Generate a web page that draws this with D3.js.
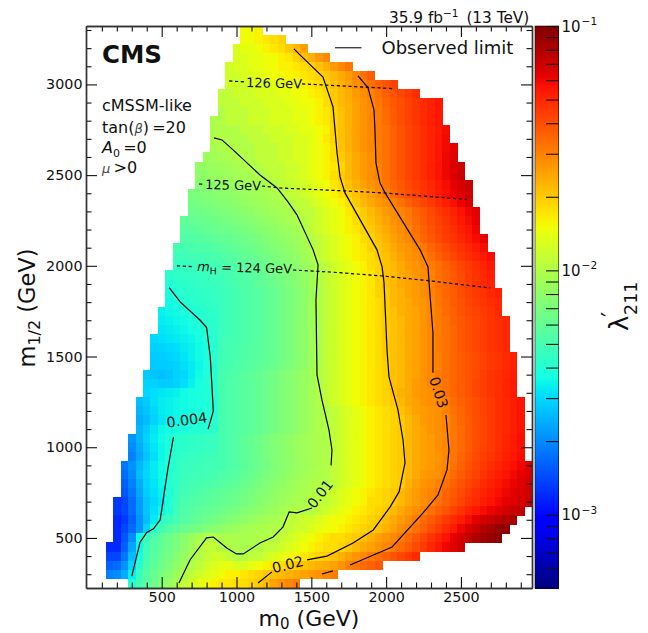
<!DOCTYPE html>
<html>
<head>
<meta charset="utf-8">
<script src="https://cdn.jsdelivr.net/npm/d3@7"></script>
<style>
  body { margin: 0; background: #fff; }
  text { font-family: "DejaVu Sans", sans-serif; fill: #111; }
</style>
</head>
<body>
<script>
// m1/2 of every row, its first m0 column, and lambda'211 x 1000 (50 GeV columns)
const rowM12 = [3300,3250,3200,3150,3100,3050,3000,2950,2900,2850,2800,2750,2700,2650,2600,2550,2500,2450,2400,2350,2300,2250,2200,2150,2100,2050,2000,1950,1900,1850,1800,1750,1700,1650,1600,1550,1500,1450,1400,1350,1300,1250,1200,1150,1100,1050,1000,950,900,850,800,750,700,650,600,550,500,450,400,350,300,250];
const rowFirstM0 = [1050,1050,1000,1000,950,950,950,900,900,900,850,850,850,850,800,750,750,750,700,700,700,650,650,650,600,600,600,550,550,550,550,500,500,500,450,450,450,450,400,400,400,350,350,350,350,300,300,300,250,250,250,250,200,200,200,200,200,150,150,150,150,300];
const lambdaRows = [
[15,15,16],
[15,15,16,17,18,19],
[13,14,14,15,16,17,18,20,22,25],
[13,13,14,14,15,15,16,17,19,21,23,26,29],
[12,13,13,14,14,15,15,16,16,17,18,19,21,23,26,29,32],
[12,12,13,13,14,14,15,15,16,16,17,18,19,20,22,24,26,29,33,37],
[12,12,12,13,13,13,14,14,15,15,16,17,18,19,21,23,25,28,30,33,36,39,43],
[11,11,12,12,12,13,13,13,14,14,15,15,16,17,18,20,22,24,26,28,30,33,36,39,42,45,48],
[11,11,11,12,12,12,13,13,13,14,14,15,15,16,18,20,22,23,25,27,29,32,35,38,40,43,46,49,52,55],
[10,11,11,11,12,12,12,13,13,13,14,14,15,16,17,19,21,23,25,27,29,31,34,37,40,43,46,49,52,55],
[9.8,10,11,11,11,12,12,12,13,13,13,14,14,15,16,17,19,21,23,25,27,29,31,34,37,40,43,46,49,52,55],
[9.7,9.9,10,10,11,11,11,12,12,12,13,13,14,14,15,16,19,21,23,25,27,29,31,33,36,39,42,45,48,51,54,58],
[10,10,10,10,10,11,11,11,12,12,12,13,13,14,15,17,19,21,23,25,27,29,31,33,36,39,42,45,48,51,55,59],
[9.5,9.7,9.9,10,10,10,11,11,11,12,12,13,13,14,15,16,18,21,23,25,27,29,31,33,36,39,42,45,48,51,55,59,63],
[8.8,9,9.3,9.6,10,10,10,11,11,11,12,12,13,13,14,15,16,18,20,22,24,26,28,31,33,36,39,42,45,48,51,55,60,65],
[8.2,8.4,8.6,8.8,9,9.3,9.7,10,10,11,11,11,12,12,13,14,15,16,17,19,22,24,26,28,30,33,36,39,42,45,48,52,56,60,65,70],
[8,8.2,8.4,8.6,8.8,9,9.3,9.6,10,10,11,11,12,12,13,14,15,16,18,20,22,24,26,28,30,33,36,39,42,45,48,52,56,60,65,70],
[7.6,7.8,8,8.2,8.4,8.6,8.9,9.2,9.5,9.9,10,11,11,12,12,13,14,15,17,19,21,23,25,27,29,32,35,38,41,44,47,50,54,58,62,67,72],
[7,7.2,7.4,7.6,7.8,8,8.2,8.5,8.8,9.1,9.4,9.7,10,11,11,12,13,14,15,16,18,19,21,23,25,28,31,34,37,40,43,46,49,53,57,61,65,70],
[6.7,6.9,7.1,7.3,7.5,7.7,8,8.2,8.5,8.8,9.1,9.4,9.7,10,11,11,12,13,14,15,16,18,20,22,24,26,28,30,33,36,39,42,45,49,53,57,61,66],
[6.4,6.5,6.7,6.9,7.1,7.3,7.5,7.8,8.1,8.4,8.7,9,9.3,9.6,10,11,11,12,13,14,15,17,18,20,22,24,26,28,30,32,35,38,41,45,48,52,56,60,64],
[5.9,6,6.2,6.3,6.5,6.7,6.9,7.1,7.3,7.6,7.9,8.2,8.5,8.9,9.3,9.7,10,11,12,13,14,15,16,18,19,21,23,25,27,29,31,34,37,40,43,46,50,54,58,62],
[5.6,5.7,5.9,6,6.2,6.4,6.5,6.7,6.9,7.2,7.5,7.8,8.1,8.4,8.8,9.2,9.8,11,12,13,14,15,16,17,19,20,22,24,26,28,30,33,36,39,42,45,48,52,56,60],
[5.3,5.4,5.5,5.7,5.8,6,6.1,6.3,6.5,6.7,7,7.3,7.6,8,8.4,8.8,9.4,10,11,12,13,14,15,16,18,19,21,23,25,27,29,32,35,38,41,44,47,50,54,58,62],
[5,5,5.1,5.2,5.3,5.4,5.6,5.8,6,6.2,6.4,6.7,7,7.3,7.7,8.1,8.5,9.2,10,11,12,13,14,15,16,17,19,20,22,24,26,27,29,32,35,38,41,44,47,50,54,58],
[4.7,4.8,4.9,4.9,5,5.1,5.3,5.5,5.7,5.9,6.1,6.4,6.7,7,7.4,7.8,8.2,8.8,9.6,11,12,13,14,15,16,17,18,20,21,23,25,27,28,30,33,36,39,42,45,48,51,54,58],
[4.5,4.5,4.6,4.7,4.8,4.9,5,5.2,5.4,5.6,5.8,6.1,6.4,6.7,7.1,7.5,7.9,8.5,9.1,10,11,12,13,14,15,16,18,19,21,22,24,26,27,29,31,33,36,39,42,45,48,51,55],
[4.2,4.3,4.4,4.4,4.5,4.6,4.7,4.8,5,5.2,5.4,5.6,5.9,6.2,6.5,6.9,7.3,7.7,8.2,8.9,10,11,12,13,14,15,16,17,19,21,22,24,25,27,28,30,33,35,38,41,44,47,50,53],
[4,4.1,4.2,4.3,4.4,4.5,4.6,4.7,4.9,5.1,5.3,5.5,5.8,6.1,6.4,6.8,7.2,7.6,8.1,8.9,10,11,12,13,14,15,16,17,19,21,22,24,25,26,28,30,33,35,38,41,44,46,49,52],
[3.8,3.9,4.1,4.2,4.3,4.4,4.5,4.6,4.8,5,5.2,5.4,5.6,5.9,6.2,6.6,7,7.4,7.9,8.8,10,11,12,13,14,15,16,17,19,20,22,23,25,26,28,30,32,35,37,40,43,45,47,50,52],
[3.6,3.8,4,4.1,4.2,4.3,4.4,4.6,4.8,5,5.2,5.4,5.6,5.9,6.2,6.5,6.9,7.4,7.9,8.8,10,11,12,13,14,15,16,17,18,20,22,23,24,26,27,29,32,34,37,39,42,44,46,48,50],
[3.4,3.5,3.6,3.8,3.9,4,4.2,4.3,4.6,4.8,5,5.2,5.4,5.6,5.9,6.2,6.6,7,7.5,8,8.9,10,11,12,13,14,15,16,17,18,20,21,23,24,25,27,29,31,34,36,39,41,43,45,47,50],
[3.3,3.4,3.5,3.6,3.8,4,4.1,4.2,4.6,4.8,5,5.2,5.4,5.6,5.9,6.2,6.6,7,7.5,8,8.9,9.9,11,12,13,14,15,16,17,18,20,21,22,24,25,27,29,31,33,36,38,40,42,44,46,48,50],
[3.2,3.3,3.4,3.5,3.7,3.8,4,4.1,4.6,4.8,5,5.2,5.4,5.6,5.9,6.2,6.6,7,7.5,8,8.9,9.8,11,12,13,14,15,16,17,18,20,21,22,24,25,27,29,31,33,35,38,40,42,44,46,48,50],
[3,3.1,3.2,3.3,3.4,3.5,3.7,3.9,4.1,4.7,4.9,5,5.2,5.4,5.6,5.9,6.2,6.6,7,7.5,8,8.9,9.8,11,12,13,14,15,16,17,18,20,21,22,24,25,27,29,31,33,35,38,40,42,44,46,48,50],
[2.9,2.9,3,3.1,3.3,3.4,3.6,3.8,4.1,4.8,4.9,5.1,5.3,5.5,5.7,5.9,6.2,6.6,7,7.5,8,8.9,9.8,11,12,13,14,15,16,17,18,20,21,22,24,25,27,29,31,33,35,38,40,42,44,46,48,50],
[2.8,2.8,2.9,3,3.2,3.4,3.6,3.8,4.1,4.8,5,5.1,5.3,5.5,5.7,5.9,6.2,6.6,7,7.5,8,8.9,9.8,11,12,13,14,15,16,17,18,20,21,22,24,25,27,29,30,33,35,37,39,41,43,45,47,49,52],
[2.8,2.8,2.8,2.9,3.1,3.3,3.5,3.8,4.1,4.9,5,5.2,5.4,5.6,5.8,6,6.3,6.7,7.1,7.6,8.1,8.9,9.8,11,12,13,14,15,16,17,18,19,21,22,24,25,27,29,30,33,35,37,39,41,43,45,47,49,52],
[2.8,2.7,2.6,2.7,2.9,3,3.3,3.6,3.9,4.2,5,5.2,5.4,5.6,5.8,6.1,6.4,6.8,7.2,7.6,8,8.5,9.1,10,11,12,13,14,15,16,17,18,19,21,22,24,25,27,29,31,33,35,37,39,41,44,46,48,50,53],
[2.9,2.9,2.8,2.8,2.9,3.1,3.4,3.7,3.9,4.2,5,5.2,5.4,5.6,5.8,6.1,6.4,6.8,7.2,7.6,8,8.5,9.1,10,11,12,13,14,15,16,17,18,19,21,22,24,26,27,29,31,33,35,37,39,42,44,46,48,51,54],
[3,3.1,3.2,3.3,3.4,3.6,3.7,3.8,3.9,4.1,5,5.2,5.4,5.6,5.8,6.1,6.4,6.8,7.2,7.6,8,8.5,9.1,10,11,12,13,14,15,16,17,18,19,21,23,24,26,27,28,30,33,35,37,39,42,44,46,48,51,54],
[2.6,2.8,3.1,3.3,3.4,3.5,3.6,3.7,3.8,3.9,4,5,5.2,5.4,5.6,5.8,6.1,6.4,6.8,7.2,7.6,8,8.5,9.1,9.8,11,12,13,14,15,16,17,18,19,20,22,24,25,27,28,29,31,34,36,38,40,43,45,48,50,53,56],
[2.5,2.7,3,3.3,3.4,3.5,3.6,3.7,3.8,3.9,4,5,5.2,5.4,5.6,5.8,6.1,6.4,6.8,7.2,7.6,8,8.5,9.1,9.8,10,11,12,13,14,15,16,17,18,19,21,23,25,26,27,28,30,33,35,38,40,43,45,48,50,53,56],
[2.4,2.6,2.9,3.2,3.4,3.5,3.6,3.7,3.9,4,4.1,5,5.2,5.4,5.6,5.8,6.1,6.4,6.8,7.2,7.6,8,8.5,9.1,9.8,10,11,12,13,14,15,16,17,18,19,20,22,24,26,27,28,29,32,35,37,40,42,45,48,50,53,56],
[2.5,2.8,3.2,3.5,3.6,3.7,3.8,3.9,4,4,4.2,5,5.2,5.4,5.6,5.8,6.1,6.4,6.8,7.2,7.6,8,8.5,9.1,9.8,10,11,12,13,14,15,16,17,18,19,20,22,24,25,27,28,29,32,34,37,40,42,45,48,50,53,56],
[2.1,2.5,2.9,3.3,3.6,3.9,4.1,4.2,4.3,4.4,4.5,4.6,5,5.2,5.5,5.8,6.1,6.5,6.9,7.3,7.7,8.1,8.5,8.9,9.3,9.6,9.9,11,12,13,14,15,16,17,18,19,20,22,24,25,26,28,29,32,34,37,40,42,45,48,51,54,57],
[2,2.4,2.8,3.2,3.5,3.8,4.1,4.2,4.3,4.4,4.5,4.6,5,5.2,5.5,5.8,6.1,6.5,6.9,7.3,7.7,8.1,8.5,8.9,9.3,9.6,9.9,11,12,13,14,15,16,17,18,19,20,22,24,25,26,28,29,32,34,37,40,43,45,48,51,54,57],
[1.9,2.3,2.7,3.1,3.5,3.8,4.2,4.4,4.5,4.6,4.7,4.8,5,5.2,5.5,5.8,6.1,6.5,6.9,7.3,7.7,8.1,8.5,8.9,9.3,9.6,9.9,11,12,13,14,15,16,17,18,19,20,22,24,25,26,27,29,32,35,38,41,44,46,49,52,55,58],
[1.8,2.1,2.5,2.9,3.3,3.6,3.9,4.3,4.5,4.6,4.7,4.8,4.9,5,5.2,5.4,5.7,6,6.4,6.8,7.2,7.6,8,8.4,8.8,9.2,9.6,10,11,12,13,14,15,16,17,18,19,20,22,24,25,26,28,29,33,36,39,42,45,48,51,54,57,60,63],
[1.7,2,2.6,3,3.3,3.6,4,4.3,4.6,4.7,4.8,4.9,5,5.2,5.4,5.6,5.9,6.2,6.6,7,7.4,7.8,8.2,8.6,9,9.4,9.8,10,11,12,13,14,15,16,17,18,19,20,22,24,26,27,28,31,34,37,40,43,47,50,53,56,59,62,65],
[1.6,1.9,2.4,2.9,3.2,3.5,3.9,4.4,4.7,4.9,5,5.1,5.3,5.5,5.7,5.9,6.2,6.5,6.9,7.3,7.7,8.1,8.5,8.9,9.3,9.7,10,10,11,12,13,14,15,16,17,18,19,20,23,25,27,28,30,33,36,39,42,45,49,52,55,58,61,64,67],
[1.5,1.8,2.3,2.8,3.1,3.4,3.8,4.5,4.9,5.1,5.3,5.5,5.7,5.9,6.1,6.3,6.6,6.9,7.3,7.6,8,8.4,8.8,9.2,9.6,9.9,10,11,12,13,14,15,16,17,18,19,20,22,24,26,28,30,32,35,38,41,44,48,51,54,57,60,63,66,70],
[1.3,1.4,1.7,2.2,2.7,3,3.3,3.9,4.6,5.1,5.3,5.5,5.7,5.9,6.1,6.3,6.5,6.8,7.1,7.5,7.9,8.3,8.7,9.1,9.5,9.8,10,11,11,12,13,14,15,16,18,18,19,20,22,24,26,28,30,33,36,39,42,46,49,53,56,59,62,65,68,71],
[1.3,1.4,1.7,2.2,2.7,3.1,3.5,4,4.8,5.3,5.5,5.8,6,6.2,6.4,6.7,7,7.3,7.6,8,8.3,8.7,9.1,9.9,10,10,10,11,12,13,14,15,16,17,18,19,20,22,24,26,28,30,33,36,39,43,47,51,55,58,61,64,68,71,74],
[1.2,1.3,1.6,2.1,2.6,3.3,4.1,4.6,5,5.5,5.8,6.1,6.4,6.7,7,7.3,7.7,8,8.4,8.8,9.2,9.5,9.8,11,11,12,12,13,14,15,15,16,17,18,19,20,22,24,26,28,31,34,37,41,45,49,53,58,63,68,72,76,80,84],
[1.2,1.4,1.7,2.1,2.9,4,4.8,5.4,5.8,6.2,6.5,6.9,7.3,7.7,8,8.4,8.7,9,9.3,9.6,9.8,10,10,11,12,12,13,14,15,15,16,17,18,19,20,21,23,25,28,30,33,36,40,44,49,54,60,66,72,78,84,90,93],
[1.2,1.5,2,3.6,4.6,5.3,5.9,6.4,7,7.7,8.5,9.4,10,10,9.7,9.6,9.5,9.5,9.6,9.8,9.9,10,11,12,13,14,15,16,17,18,18,19,20,21,23,25,27,29,31,34,38,42,46,51,56,62,68,74,80,86,90,95],
[1.2,1.2,1.6,2.3,3.5,4.8,5.5,6,6.5,7.1,7.9,8.8,9.9,11,11,10,9.9,9.6,9.5,9.7,10,11,11,12,13,14,15,16,17,18,18,19,20,22,24,25,27,29,31,34,37,41,45,50,55,60,65,70],
[1.4,1.4,1.8,2.6,3.7,5,5.7,6.2,6.8,7.5,8.4,9.4,10,11,12,12,11,10,10,11,11,12,13,14,15,16,17,18,19,20,21,23,25,27,29,31,33,36,39,42,45,49],
[1.6,1.7,2.1,3,4.1,5.2,5.9,6.5,7.2,8,8.9,9.9,11,12,13,14,14,13,13,14,15,16,17,18,19,20,21,22,23,24,25,27,30,32,34,36,38],
[1.9,2,2.4,3.4,4.6,5.5,6.2,6.9,7.7,8.6,9.5,11,12,13,14,15,16,16,17,18,19,20,21,22,23,24,25,26,27,29,31],
[4,4.9,5.7,6.5,7.3,8.3,9.6,11,12,14,15,16,17,17,18,18,19,20,22,25,27,29,31]
];
const xMajor = [500,1000,1500,2000,2500];
const xMinor = [100,200,300,400,600,700,800,900,1100,1200,1300,1400,1600,1700,1800,1900,2100,2200,2300,2400,2600,2700,2800,2900];
const yMajor = [500,1000,1500,2000,2500,3000];
const yMinor = [300,400,600,700,800,900,1100,1200,1300,1400,1600,1700,1800,1900,2100,2200,2300,2400,2600,2700,2800,2900,3100,3200,3300];
const barMajor = [0.1,0.01,0.001];
const barMinor = [0.09,0.08,0.07,0.06,0.05,0.04,0.03,0.02,0.009,0.008,0.007,0.006,0.005,0.004,0.003,0.002,0.0009,0.0008,0.0007,0.0006];

// observed limit contours, [m0, m1/2], broken where the labels sit
const limit004a = [[550,1880],[625,1800],[757,1700],[800,1660],[825,1495],[845,1200],[810,1100]];
const limit004b = [[578,1055],[540,875],[490,600],[445,550],[400,530],[355,475],[300,290]];
const limit01a = [[850,2705],[903,2694],[977,2639],[1157,2501],[1271,2429],[1344,2352],[1404,2281],[1512,2088],[1545,2005],[1531,1812],[1538,1399],[1571,1261],[1618,1095],[1638,985],[1632,900]];
const limit01b = [[1505,665],[1404,638],[1352,643],[1310,560],[1245,505],[1157,472],[1045,412],[1000,412],[935,445],[845,505],[800,500],[690,380],[615,252]];
const limit02a = [[1384,3196],[1424,3163],[1578,3041],[1645,2876],[1672,2622],[1692,2490],[1725,2402],[1939,2088],[1973,1994],[1986,1906],[2006,1536],[2019,1388],[2079,1206],[2113,1040],[2126,913],[2087,755],[2027,671],[1914,544],[1779,472],[1605,400],[1471,379]];
const limit02b = [[1144,252],[1237,313]];
const limit03a = [[1812,3047],[1879,2981],[1919,2859],[1926,2733],[1932,2567],[1959,2457],[1993,2402],[2227,2088],[2280,1994],[2287,1906],[2313,1630],[2313,1410]];
const limit03b = [[2400,1178],[2420,985],[2407,875],[2347,737],[2247,638],[2040,450],[1759,351]];
const limit03c = [[1645,318],[1571,301]];
const limitLines = [limit004a,limit004b,limit01a,limit01b,limit02a,limit02b,limit03a,limit03b,limit03c];

// Higgs mass lines
const higgs126a = [[951,3019],[1050,3014]];
const higgs126b = [[1438,3003],[1578,2997],[2046,2977]];
const higgs125a = [[749,2451],[785,2449]];
const higgs125b = [[1170,2440],[1291,2429],[1725,2413],[1979,2402],[2541,2366]];
const higgs124a = [[602,2000],[715,1995]];
const higgs124b = [[1378,1977],[1625,1966],[1979,1944],[2293,1917],[2695,1878]];
const higgsLines = [higgs126a,higgs126b,higgs125a,higgs125b,higgs124a,higgs124b];

const width = 648, height = 633;
const plot = {left: 86, right: 532, top: 26, bottom: 588};
const bar = {left: 535, right: 558.5};
const cellHalf = 25;

const x = d3.scaleLinear().domain([-6, 2975]).range([plot.left, plot.right]);
const y = d3.scaleLinear().domain([224, 3322]).range([plot.bottom, plot.top]);
const barY = d3.scaleLog().domain([10 ** -3.3, 0.1]).range([plot.bottom, plot.top]);

// matplotlib jet
const jetR = d3.scaleLinear().domain([0,0.35,0.66,0.89,1]).range([0,0,1,1,0.5]);
const jetG = d3.scaleLinear().domain([0,0.125,0.375,0.64,0.91,1]).range([0,0,1,1,0,0]);
const jetB = d3.scaleLinear().domain([0,0.11,0.34,0.65,1]).range([0.5,1,1,0,0]);
const jet = t => d3.rgb(jetR(t)*255, jetG(t)*255, jetB(t)*255).formatRgb();
const lambdaT = d3.scaleLog().domain([10 ** -3.3, 0.1]).range([0, 1]).clamp(true);
const colour = v => jet(lambdaT(v));

const svg = d3.select('body').append('svg')
  .attr('width', width)
  .attr('height', height)
  .style('display', 'block');

svg.append('clipPath').attr('id', 'plot-clip').append('rect')
  .attr('x', plot.left).attr('y', plot.top)
  .attr('width', plot.right - plot.left).attr('height', plot.bottom - plot.top);

// cells
const cells = [];
lambdaRows.forEach((row, r) => {
  row.forEach((v, i) => {
    cells.push({m12: rowM12[r], m0: rowFirstM0[r] + i * 50, lambda: v / 1000});
  });
});

svg.append('g')
  .attr('clip-path', 'url(#plot-clip)')
  .attr('shape-rendering', 'crispEdges')
  .selectAll('rect')
  .data(cells)
  .enter()
  .append('rect')
  .attr('x', d => x(d.m0 - cellHalf))
  .attr('y', d => y(d.m12 + cellHalf))
  .attr('width', d => x(d.m0 + cellHalf) - x(d.m0 - cellHalf) + 0.4)
  .attr('height', d => y(d.m12 - cellHalf) - y(d.m12 + cellHalf) + 0.4)
  .attr('fill', d => colour(d.lambda));

const line = d3.line().x(d => x(d[0])).y(d => y(d[1]));

svg.append('g')
  .selectAll('path')
  .data(limitLines)
  .enter()
  .append('path')
  .attr('d', line)
  .attr('fill', 'none')
  .attr('stroke', '#000')
  .attr('stroke-width', 1.2);

svg.append('g')
  .selectAll('path')
  .data(higgsLines)
  .enter()
  .append('path')
  .attr('d', line)
  .attr('fill', 'none')
  .attr('stroke', '#000')
  .attr('stroke-width', 1.2)
  .attr('stroke-dasharray', '3.2,2.6');

// axes, major and minor on all four sides
const noLabel = () => '';
const drawAxis = (axis, values, size, dx, dy, fmt) => {
  const g = svg.append('g')
    .attr('transform', 'translate(' + dx + ',' + dy + ')')
    .call(axis.tickValues(values).tickSizeInner(-size).tickSizeOuter(0).tickPadding(3.5).tickFormat(fmt));
  g.select('.domain').attr('stroke', '#333').attr('stroke-width', 1.4);
  g.selectAll('.tick line').attr('stroke', '#111').attr('stroke-width', 1.1);
  g.selectAll('text').style('font-size', '14.3px').style('font-family', '"DejaVu Sans", sans-serif').attr('fill', '#111');
  return g;
};
drawAxis(d3.axisBottom(x), xMinor, 5.5, 0, plot.bottom, noLabel);
drawAxis(d3.axisBottom(x), xMajor, 11, 0, plot.bottom, d3.format('d'));
drawAxis(d3.axisTop(x), xMinor, 5.5, 0, plot.top, noLabel);
drawAxis(d3.axisTop(x), xMajor, 11, 0, plot.top, noLabel);
drawAxis(d3.axisLeft(y), yMinor, 5.5, plot.left, 0, noLabel);
drawAxis(d3.axisLeft(y), yMajor, 11, plot.left, 0, d3.format('d'));
drawAxis(d3.axisRight(y), yMinor, 5.5, plot.right, 0, noLabel);
drawAxis(d3.axisRight(y), yMajor, 11, plot.right, 0, noLabel);

// colour bar
svg.append('g')
  .attr('shape-rendering', 'crispEdges')
  .selectAll('rect')
  .data(d3.range(plot.top, plot.bottom))
  .enter()
  .append('rect')
  .attr('x', bar.left)
  .attr('y', d => d)
  .attr('width', bar.right - bar.left)
  .attr('height', 1.5)
  .attr('fill', d => colour(barY.invert(d + 0.5)));

svg.append('rect')
  .attr('x', bar.left).attr('y', plot.top)
  .attr('width', bar.right - bar.left).attr('height', plot.bottom - plot.top)
  .attr('fill', 'none')
  .attr('stroke', 'rgba(0,0,0,0.55)')
  .attr('stroke-width', 1);

const barTicks = svg.append('g')
  .attr('transform', 'translate(' + bar.right + ',0)')
  .call(d3.axisRight(barY).tickValues(barMajor.concat(barMinor)).tickSizeInner(-12.5).tickSizeOuter(0).tickFormat(noLabel));
barTicks.select('.domain').remove();
barTicks.selectAll('.tick line').attr('stroke', '#111').attr('stroke-width', 1.1);

// rich text helper: parts are [string, {size, dy, style, dx}]
const rich = (tx, ty, size, parts, opts = {}) => {
  const t = svg.append('text')
    .attr('transform', 'translate(' + tx + ',' + ty + ') rotate(' + (opts.rotate || 0) + ')')
    .attr('text-anchor', opts.anchor || 'start')
    .style('font-size', size + 'px');
  if (opts.weight) t.style('font-weight', opts.weight);
  parts.forEach(p => {
    const o = p[1] || {};
    const s = t.append('tspan').text(p[0]);
    if (o.size) s.style('font-size', o.size + 'px');
    if (o.dy) s.attr('dy', o.dy);
    if (o.dx) s.attr('dx', o.dx);
    if (o.style) s.style('font-style', o.style);
    if (o.fill) s.style('fill', o.fill);
  });
  return t;
};

barMajor.forEach((v, i) => {
  rich(bar.right + 3, barY(v) + 5.5, 15, [['10'], ['\u2212' + (i + 1), {size: 10.5, dy: -6.5, dx: 1}]]);
});

rich(102, 63, 24.5, [['CMS']], {weight: 'bold'});
rich(102, 111, 16, [['cMSSM-like']]);
rich(102, 132.7, 16, [['tan('], ['\u03b2', {style: 'italic', size: 13, fill: '#444'}], [')'], ['\u2009=20']]);
rich(102, 153, 16, [['A', {style: 'italic'}], ['0', {size: 11, dy: 3.5}], ['\u2009=0', {dy: -3.5}]]);
rich(102, 173, 16, [['\u03bc', {style: 'italic', size: 13, fill: '#444'}], ['\u2009>0', {size: 16}]]);

rich(389, 22.7, 15.3, [['35.9 fb'], ['\u22121', {size: 10.5, dy: -6}], [' (13 TeV)', {dy: 6, dx: 3}]]);

svg.append('line')
  .attr('x1', 335).attr('x2', 361.5).attr('y1', 47.7).attr('y2', 47.7)
  .attr('stroke', '#444').attr('stroke-width', 1.4);
rich(381.5, 54, 18, [['Observed limit']]);

rich(246, 87, 13, [['126 GeV']], {rotate: 1.5});
rich(205, 189, 13, [['125 GeV']], {rotate: 1.5});
rich(197, 271, 13, [['m', {style: 'italic'}], ['H', {size: 9.5, dy: 3}], [' = 124 GeV', {dy: -3}]], {rotate: 1.5});

rich(187.5, 425, 14.3, [['0.004']], {rotate: -8, anchor: 'middle'});
rich(324, 497, 14.3, [['0.01']], {rotate: -52, anchor: 'middle'});
rich(289, 569.5, 14.3, [['0.02']], {rotate: -14, anchor: 'middle'});
rich(434, 394, 14.3, [['0.03']], {rotate: 72, anchor: 'middle'});

rich(309, 626, 22, [['m'], ['0', {size: 15, dy: 3}], [' (GeV)', {dy: -3}]], {anchor: 'middle'});
rich(35, 308, 22.5, [['m'], ['1/2', {size: 16, dy: 5}], [' (GeV)', {dy: -5}]], {anchor: 'middle', rotate: -90});
rich(628, 331, 26, [['\u03bb']], {rotate: -90});
rich(619, 317, 24, [['\u2032']], {rotate: -90});
rich(637, 315, 17.5, [['211']], {rotate: -90});
</script>
</body>
</html>
